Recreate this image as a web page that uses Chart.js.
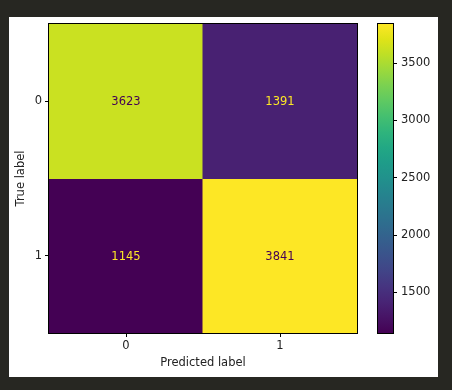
<!DOCTYPE html>
<html>
<head>
<meta charset="utf-8">
<script src="https://cdn.jsdelivr.net/npm/chart.js@4/dist/chart.umd.min.js"></script>
<style>
  html, body { margin:0; padding:0; background:#272722; width:452px; height:390px; overflow:hidden; }
  #panel { position:absolute; left:9px; top:17px; width:429px; height:360px; background:#ffffff; }
  canvas { position:absolute; left:0; top:0; }
</style>
</head>
<body>
<div id="panel"></div>
<canvas id="cm" width="452" height="390"></canvas>
<canvas id="cb" width="452" height="390"></canvas>
<script>
// ---- data ----
const predictedLabels = ['0', '1'];
const trueLabels = ['0', '1'];
const row0 = [3623, 1391];   // true label 0
const row1 = [1145, 3841];   // true label 1
const colorbarTicks = [1500, 2000, 2500, 3000, 3500];

const rows = [row0, row1];
const allVals = row0.concat(row1);
const vmin = Math.min(...allVals);
const vmax = Math.max(...allVals);

// viridis colormap stops (every 0.05)
const VIR = ['#440154','#471365','#482475','#463480','#414487','#3b528b','#355f8d','#2f6c8e','#2a788e','#25848e',
             '#21918c','#1e9c89','#22a884','#2fb47c','#44bf70','#5ec962','#7ad151','#9bd93c','#bddf26','#dfe318','#fde725'];
function hex2rgb(h){ return [parseInt(h.substr(1,2),16),parseInt(h.substr(3,2),16),parseInt(h.substr(5,2),16)]; }
function viridis(t){
  t = Math.max(0, Math.min(1, t));
  const p = t * (VIR.length - 1);
  const i = Math.min(Math.floor(p), VIR.length - 2);
  const f = p - i;
  const a = hex2rgb(VIR[i]), b = hex2rgb(VIR[i+1]);
  const c = a.map((v,k) => Math.round(v + (b[k]-v)*f));
  return 'rgb(' + c.join(',') + ')';
}
const norm = v => (v - vmin) / (vmax - vmin);

const FS = 11.5;
const FONT = { family: "'DejaVu Sans', sans-serif", size: FS };
const TXT = '#222222';

// frame plugin
const framePlugin = {
  id: 'frame',
  afterDatasetsDraw(chart) {
    const a = chart.chartArea, ctx = chart.ctx;
    ctx.save();
    ctx.strokeStyle = '#000';
    ctx.lineWidth = 1;
    ctx.strokeRect(Math.round(a.left) - 0.5, Math.round(a.top) - 0.5, Math.round(a.right - a.left) + 1, Math.round(a.bottom - a.top) + 1);
    ctx.restore();
  }
};

// cell text plugin
const cellText = {
  id: 'cellText',
  afterDatasetsDraw(chart) {
    const ctx = chart.ctx, xs = chart.scales.x, ys = chart.scales.y;
    ctx.save();
    ctx.font = FS + "px 'DejaVu Sans', sans-serif";
    ctx.textAlign = 'center';
    ctx.textBaseline = 'middle';
    rows.forEach((row, r) => {
      row.forEach((v, c) => {
        const x = xs.getPixelForValue(c);
        const y = ys.getPixelForValue(r + 0.5) + 1;
        ctx.fillStyle = norm(v) < 0.5 ? '#fde725' : '#440154';
        ctx.fillText(String(v), x, y);
      });
    });
    ctx.restore();
  }
};

new Chart(document.getElementById('cm'), {
  type: 'bar',
  data: {
    labels: predictedLabels,
    datasets: rows.map((row, r) => ({
      label: trueLabels[r],
      data: row.map(() => 1),
      backgroundColor: row.map(v => viridis(norm(v))),
      borderWidth: 0,
      barPercentage: 1,
      categoryPercentage: 1,
      inflateAmount: 0.5
    }))
  },
  options: {
    responsive: false,
    animation: false,
    events: [],
    layout: { padding: { left: 0, top: 24, right: 95, bottom: 0 } },
    plugins: { legend: { display: false }, tooltip: { enabled: false } },
    scales: {
      x: {
        stacked: true,
        afterFit(s) { s.height = 57; },
        grid: { offset: false, drawOnChartArea: false, drawTicks: true, tickLength: 4, tickColor: '#000', tickWidth: 1 },
        border: { display: false },
        ticks: { color: TXT, font: FONT, padding: 2, maxRotation: 0 },
        title: { display: true, text: 'Predicted label', color: TXT, font: FONT, padding: { top: 0, bottom: 20.4 } }
      },
      y: {
        stacked: true,
        reverse: true,
        min: 0,
        max: rows.length,
        afterFit(s) { s.width = 49; },
        afterBuildTicks(s) { s.ticks = trueLabels.map((_, i) => ({ value: i + 0.5 })); },
        grid: { drawOnChartArea: false, drawTicks: true, tickLength: 4, tickColor: '#000', tickWidth: 1 },
        border: { display: false },
        ticks: { color: TXT, font: FONT, padding: 3, callback: (v, i) => trueLabels[i] },
        title: { display: true, text: 'True label', color: TXT, font: FONT, padding: { top: 14.6, bottom: 0 } }
      }
    }
  },
  plugins: [cellText, framePlugin]
});

// colorbar
new Chart(document.getElementById('cb'), {
  type: 'bar',
  data: {
    labels: [''],
    datasets: [{
      data: [[vmin, vmax]],
      borderWidth: 0,
      barPercentage: 1,
      categoryPercentage: 1,
      backgroundColor(ctx) {
        const a = ctx.chart.chartArea;
        if (!a) return VIR[0];
        const g = ctx.chart.ctx.createLinearGradient(0, a.bottom, 0, a.top);
        VIR.forEach((c, i) => g.addColorStop(i / (VIR.length - 1), c));
        return g;
      }
    }]
  },
  options: {
    responsive: false,
    animation: false,
    events: [],
    layout: { padding: { left: 378, top: 24, right: 9, bottom: 57 } },
    plugins: { legend: { display: false }, tooltip: { enabled: false } },
    scales: {
      x: { display: false },
      y: {
        position: 'right',
        min: vmin,
        max: vmax,
        afterFit(s) { s.width = 50; },
        afterBuildTicks(s) { s.ticks = colorbarTicks.map(v => ({ value: v })); },
        grid: { drawOnChartArea: false, drawTicks: true, tickLength: 4, tickColor: '#000', tickWidth: 1 },
        border: { display: false },
        ticks: { color: TXT, font: FONT, padding: 4, callback: v => String(v) }
      }
    }
  },
  plugins: [framePlugin]
});
</script>
</body>
</html>
